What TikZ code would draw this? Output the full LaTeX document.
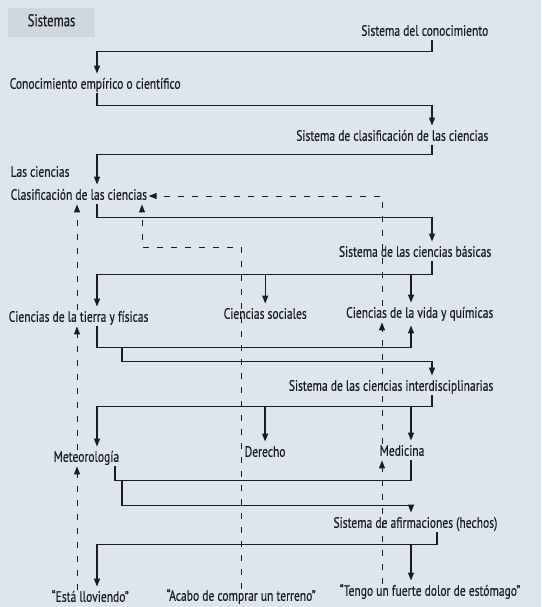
\documentclass[tikz,border=0pt]{standalone}
\usepackage{fontspec}
\setmainfont{PT Sans}[FakeStretch=0.77,FakeBold=0.35]
\newfontfamily\tabfont{PT Sans}[FakeStretch=0.74,FakeBold=0.5]
\usetikzlibrary{calc,arrows.meta}

\definecolor{paper}{RGB}{221,230,237}
\definecolor{tabgray}{RGB}{207,216,222}
\definecolor{ink}{RGB}{28,28,30}

\tikzset{
  lbl/.style={inner sep=1.5pt, text=ink, text height=10.5pt, text depth=3pt,
    font=\fontsize{15}{17}\selectfont},
  tabbox/.style={lbl, fill=tabgray, minimum width=87pt, minimum height=29pt,
    font=\tabfont\fontsize{17}{19}\selectfont},
  flow/.style={draw=ink, line width=1.25pt, shorten >=3pt,
    -{Triangle[length=8pt,width=6pt]}},
  link/.style={draw=ink, line width=1.25pt},
  hint/.style={draw=ink, line width=1pt, dash pattern=on 6pt off 8pt,
    -{Triangle[length=8pt,width=6pt]}},
}

\begin{document}
\begin{tikzpicture}[x=1pt,y=-1pt]
            \useasboundingbox (0,0) rectangle (541,607);
            \fill[paper] (0,0) rectangle (541,607);

            \node[tabbox] (sis) at (51.5,22.5) {Sistemas};

            \node[lbl,anchor=east] (sdc) at (490,32) {Sistema del conocimiento};
            \node[lbl,anchor=west] (cec) at (8,85) {Conocimiento empírico o científico};
            \node[lbl,anchor=east] (scc) at (490,137) {Sistema de clasificación de las ciencias};
            \node[lbl,anchor=west] (lc) at (9,173) {Las ciencias};
            \node[lbl,anchor=west] (clc) at (9,196) {Clasificación de las ciencias};
            \node[lbl,anchor=east] (scb) at (493,253) {Sistema de las ciencias básicas};
            \node[lbl,anchor=west] (ctf) at (7,318) {Ciencias de la tierra y físicas};
            \node[lbl,anchor=west] (cs) at (222,315) {Ciencias sociales};
            \node[lbl,anchor=east] (cvq) at (495,314) {Ciencias de la vida y químicas};
            \node[lbl,anchor=east] (sci) at (495,387) {Sistema de las ciencias interdisciplinarias};
            \node[lbl,anchor=west] (met) at (52,458) {Meteorología};
            \node[lbl,anchor=west] (der) at (243,453) {Derecho};
            \node[lbl,anchor=west] (med) at (378,452) {Medicina};
            \node[lbl,anchor=east] (saf) at (499,524) {Sistema de afirmaciones (hechos)};
            \node[lbl,anchor=west] (ell) at (50,598) {“Está lloviendo”};
            \node[lbl,anchor=west] (act) at (165,597) {“Acabo de comprar un terreno”};
            \node[lbl,anchor=west] (tfd) at (338,592) {“Tengo un fuerte dolor de estómago”};

            \coordinate (colL) at (97,0);
            \coordinate (colR) at (432,0);
            \coordinate (colM) at (411,0);
            \coordinate (colK) at (122,0);
            \coordinate (colJ) at (115,0);
            \coordinate (colS) at (437,0);
            \coordinate (colE) at (77,0);
            \coordinate (colD) at (382,0);
            \coordinate (bend) at (142,247);

            \draw[flow] (sdc.south -| colR) -- ++(0,11) -| (cec.north -| colL);
            \draw[flow] (cec.south -| colL) -- ++(0,12) -| (scc.north -| colR);
            \draw[flow] (scc.south -| colR) -- ++(0,9) -| (clc.north -| colL);
            \draw[flow] (clc.south -| colL) -- ++(0,13) -| (scb.north -| colR);
            \draw[flow] (scb.south -| colR) -- ++(0,13) coordinate (barB) -| (ctf.north -| colL);
            \draw[flow] (barB -| cs.north) -- (cs.north);
            \draw[flow] (barB -| colM) -- (cvq.north -| colM);
            \draw[flow] (ctf.south -| colL) -- ++(0,21) coordinate (barT) -| (cvq.south -| colM);
            \draw[flow] (barT -| colK) -- ++(0,14) -| (sci.north -| colR);
            \draw[flow] (sci.south -| colR) -- ++(0,11) coordinate (barI) -| (met.north -| colL);
            \draw[flow] (barI -| der.north) -- (der.north);
            \draw[flow] (barI -| colM) -- (med.north -| colM);
            \draw[link] (met.south -| colJ) -- ++(0,14) coordinate (barM) -| (med.south -| colM);
            \draw[flow] (barM -| colK) -- ++(0,25) -| (saf.north -| colM);
            \draw[flow] (saf.south -| colS) -- ++(0,12) coordinate (barS) -| (ell.north -| colL);
            \draw[flow] (barS -| colM) -- (tfd.north -| colM);

            \draw[hint] (tfd.north -| colD) -- (med.south -| colD);
            \draw[hint] (med.north -| colD) -- (cvq.south -| colD);
            \draw[hint] (cvq.north -| colD) |- (clc.east);
            \draw[hint] (act.north) |- (bend) -- (bend |- clc.south);
            \draw[hint] (ell.north -| colE) -- (met.south -| colE);
            \draw[hint] (met.north -| colE) -- (ctf.south -| colE);
            \draw[hint] (ctf.north -| colE) -- (clc.south -| colE);
          \end{tikzpicture}
\end{document}
